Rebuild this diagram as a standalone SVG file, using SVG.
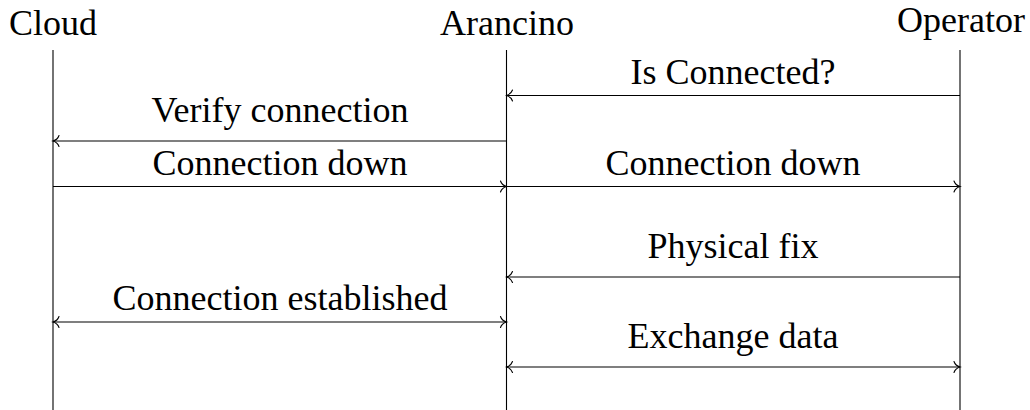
<svg xmlns="http://www.w3.org/2000/svg" width="1030" height="410" viewBox="0 0 1030 410">
  <style>
    text { font-family: "Liberation Serif", "DejaVu Serif", serif; font-size: 36px; fill: #000; text-anchor: middle; }
    .life { stroke: #000; stroke-width: 1.1; fill: none; }
    .msg { stroke: #000; stroke-width: 1.1; fill: none; }
    .tip { stroke: #000; stroke-width: 1.1; fill: none; stroke-linecap: round; }
  </style>
  <defs>
    <!-- open curved "to" arrow tip -->
    <marker id="to" viewBox="-8 -7 10 14" markerWidth="10" markerHeight="14" refX="0" refY="0" orient="auto-start-reverse" markerUnits="userSpaceOnUse">
      <path class="tip" d="M -6 -5.5 C -5 -2.5 -2 -0.6 0 0 C -2 0.6 -5 2.5 -6 5.5"/>
    </marker>
  </defs>

  <!-- participants with their lifelines -->
  <g id="cloud">
    <text x="53" y="35">Cloud</text>
    <line class="life" x1="53" y1="50" x2="53" y2="410"/>
  </g>
  <g id="arancino">
    <text x="507" y="35">Arancino</text>
    <line class="life" x1="506.5" y1="50" x2="506.5" y2="410"/>
  </g>
  <g id="operator">
    <text x="961" y="32">Operator</text>
    <line class="life" x1="960" y1="50" x2="960" y2="410"/>
  </g>

  <!-- messages -->
  <g id="connectors">
    <line class="msg" x1="960" y1="95.5" x2="506.5" y2="95.5" marker-end="url(#to)"/>
    <text x="733" y="84">Is Connected?</text>

    <line class="msg" x1="506.5" y1="141" x2="53" y2="141" marker-end="url(#to)"/>
    <text x="280" y="122">Verify connection</text>

    <line class="msg" x1="53" y1="186.5" x2="506.5" y2="186.5" marker-end="url(#to)"/>
    <text x="280" y="175">Connection down</text>

    <line class="msg" x1="506.5" y1="186.5" x2="960" y2="186.5" marker-end="url(#to)"/>
    <text x="733" y="175">Connection down</text>

    <line class="msg" x1="960" y1="277" x2="506.5" y2="277" marker-end="url(#to)"/>
    <text x="733" y="258">Physical fix</text>

    <line class="msg" x1="53" y1="322" x2="506.5" y2="322" marker-start="url(#to)" marker-end="url(#to)"/>
    <text x="280" y="310">Connection established</text>

    <line class="msg" x1="506.5" y1="367" x2="960" y2="367" marker-start="url(#to)" marker-end="url(#to)"/>
    <text x="733" y="348">Exchange data</text>
  </g>
</svg>
